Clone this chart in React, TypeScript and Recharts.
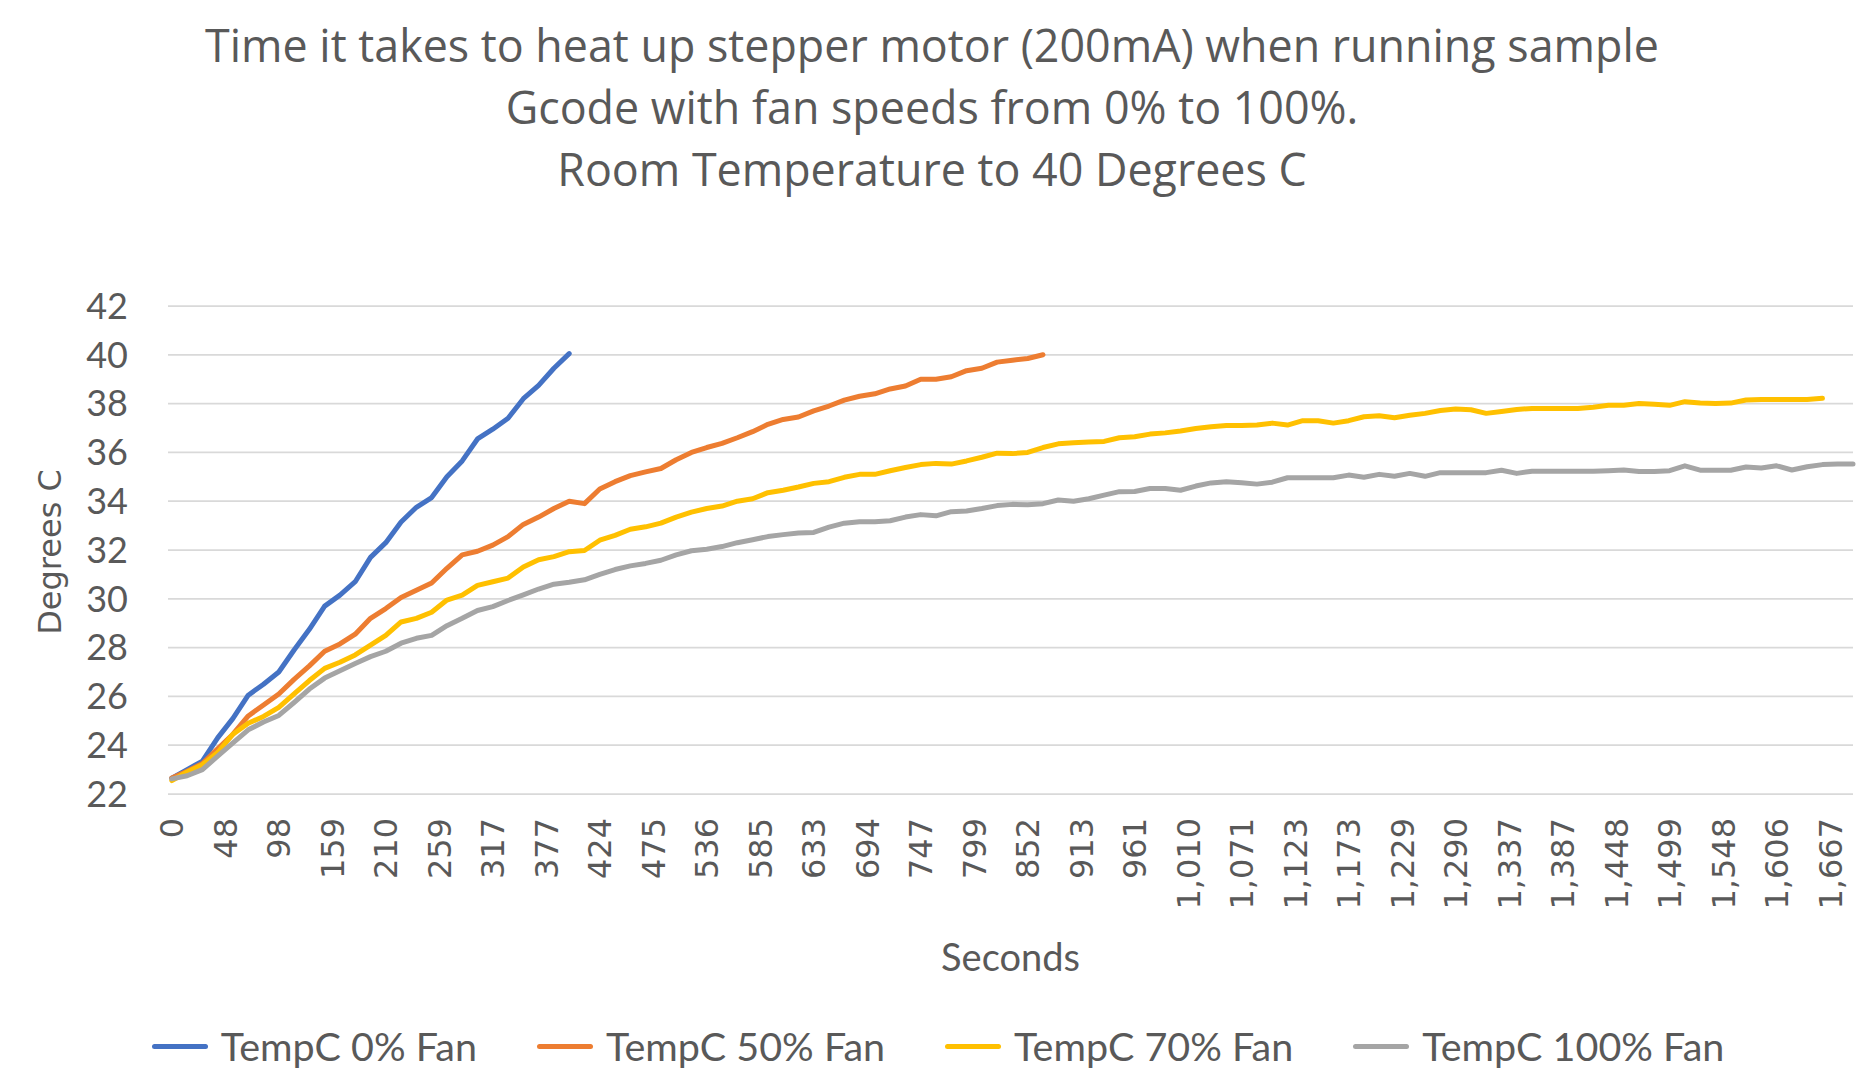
import React from "react";
import { LineChart, Line, XAxis, YAxis, CartesianGrid, Legend } from "recharts";

const TITLE_LINES = [
  "Time it takes to heat up stepper motor (200mA) when running sample",
  "Gcode with fan speeds from 0% to 100%.",
  "Room Temperature to 40 Degrees C",
];

// category labels shown on the axis: one every 7 samples
const TICK_LABELS = [
  "0", "48", "98", "159", "210", "259", "317", "377", "424", "475", "536",
  "585", "633", "694", "747", "799", "852", "913", "961", "1,010", "1,071",
  "1,123", "1,173", "1,229", "1,290", "1,337", "1,387", "1,448", "1,499",
  "1,548", "1,606", "1,667",
];
const LABEL_EVERY = 7;
const LAST_SAMPLE = 220;

const Y_TICKS = [22, 24, 26, 28, 30, 32, 34, 36, 38, 40, 42];

// temperatures at every 2nd sample
const READ_EVERY = 2;

const FAN_0 = [
  22.65, 23.0, 23.35, 24.3, 25.1, 26.05, 26.5, 27.0, 27.9, 28.75,
  29.7, 30.15, 30.7, 31.7, 32.3, 33.15, 33.75, 34.15, 35.0, 35.65,
  36.55, 36.95, 37.4, 38.2, 38.75, 39.45, 40.05,
];

const FAN_50 = [
  22.65, 22.93, 23.25, 23.85, 24.45, 25.2, 25.65, 26.1, 26.7, 27.25,
  27.85, 28.15, 28.55, 29.2, 29.6, 30.05, 30.35, 30.65, 31.25, 31.8,
  31.95, 32.2, 32.55, 33.05, 33.35, 33.7, 34.0, 33.9, 34.5, 34.8,
  35.05, 35.2, 35.34, 35.7, 36.0, 36.2, 36.37, 36.6, 36.85, 37.15,
  37.35, 37.45, 37.7, 37.9, 38.14, 38.3, 38.4, 38.6, 38.72, 39.0,
  39.0, 39.1, 39.35, 39.45, 39.7, 39.78, 39.85, 40.0,
];

const FAN_70 = [
  22.55, 22.9, 23.2, 23.7, 24.45, 24.9, 25.18, 25.55, 26.1, 26.65,
  27.15, 27.4, 27.7, 28.1, 28.5, 29.05, 29.2, 29.45, 29.95, 30.15,
  30.55, 30.7, 30.85, 31.3, 31.6, 31.73, 31.93, 31.98, 32.4, 32.6,
  32.85, 32.95, 33.1, 33.35, 33.55, 33.7, 33.8, 34.0, 34.1, 34.35,
  34.45, 34.58, 34.73, 34.8, 34.98, 35.1, 35.1, 35.25, 35.38, 35.5,
  35.55, 35.52, 35.65, 35.8, 35.97, 35.95, 36.0, 36.2, 36.35, 36.4,
  36.43, 36.45, 36.6, 36.64, 36.75, 36.8, 36.88, 36.98, 37.05, 37.1,
  37.1, 37.12, 37.2, 37.12, 37.3, 37.3, 37.2, 37.3, 37.46, 37.5,
  37.42, 37.52, 37.6, 37.72, 37.78, 37.75, 37.6, 37.68, 37.76, 37.8,
  37.8, 37.8, 37.8, 37.85, 37.93, 37.93, 38.0, 37.97, 37.93, 38.08,
  38.02, 38.0, 38.02, 38.15, 38.17, 38.17, 38.17, 38.17, 38.22,
];

const FAN_100 = [
  22.62, 22.75, 23.0, 23.55, 24.1, 24.63, 24.95, 25.22, 25.75, 26.3,
  26.75, 27.05, 27.35, 27.63, 27.85, 28.18, 28.38, 28.5, 28.9, 29.2,
  29.52, 29.68, 29.93, 30.16, 30.4, 30.6, 30.68, 30.78, 31.0, 31.2,
  31.35, 31.45, 31.58, 31.8, 31.97, 32.03, 32.14, 32.3, 32.42, 32.55,
  32.63, 32.7, 32.72, 32.94, 33.1, 33.16, 33.16, 33.2, 33.35, 33.45,
  33.4, 33.57, 33.6, 33.7, 33.82, 33.87, 33.85, 33.9, 34.05, 34.0,
  34.1, 34.25, 34.39, 34.4, 34.52, 34.52, 34.45, 34.62, 34.75, 34.8,
  34.76, 34.7, 34.78, 34.96, 34.96, 34.96, 34.96, 35.07, 34.98, 35.1,
  35.02, 35.14, 35.02, 35.17, 35.17, 35.17, 35.17, 35.27, 35.14, 35.23,
  35.23, 35.23, 35.23, 35.23, 35.25, 35.28, 35.22, 35.22, 35.25, 35.45,
  35.27, 35.27, 35.27, 35.4, 35.36, 35.45, 35.28, 35.41, 35.5, 35.52,
  35.52,
];

const SERIES = [
  { key: "fan0", name: "TempC 0% Fan", color: "#4472C4", values: FAN_0 },
  { key: "fan50", name: "TempC 50% Fan", color: "#ED7D31", values: FAN_50 },
  { key: "fan70", name: "TempC 70% Fan", color: "#FFC000", values: FAN_70 },
  { key: "fan100", name: "TempC 100% Fan", color: "#A5A5A5", values: FAN_100 },
];

const INK = "#595959";
const W = 1864;
const H = 1080;

const rowCount = Math.max(...SERIES.map((s) => s.values.length));
const rows = Array.from({ length: rowCount }, (_, i) => {
  const row: Record<string, number> = { sample: i * READ_EVERY };
  SERIES.forEach((s) => {
    if (i < s.values.length) row[s.key] = s.values[i];
  });
  return row;
});

const xTicks = TICK_LABELS.map((_, i) => i * LABEL_EVERY);

function SecondsTick({ x, y, payload }: any) {
  return (
    <text
      x={x}
      y={y}
      dy="0.36em"
      transform={`rotate(-90 ${x} ${y})`}
      textAnchor="end"
      fill={INK}
      fontSize={32}
      fontFamily="DejaVu Sans"
    >
      {TICK_LABELS[Math.round(payload.value / LABEL_EVERY)]}
    </text>
  );
}

// legend keeps series order (recharts would sort it by name)
function SeriesLegend() {
  return (
    <div style={{ display: "flex", justifyContent: "center", alignItems: "center", gap: 60, paddingLeft: 12 }}>
      {SERIES.map((s) => (
        <div key={s.key} style={{ display: "flex", alignItems: "center" }}>
          <span style={{ width: 56, height: 5, borderRadius: 3, background: s.color }} />
          <span style={{ marginLeft: 13, fontFamily: "Lato", fontSize: 39.5, color: INK, lineHeight: "48px" }}>
            {s.name}
          </span>
        </div>
      ))}
    </div>
  );
}

export default function App() {
  return (
    <div style={{ position: "relative", width: W, height: H, background: "#fff" }}>
      <style>{"body{margin:0}"}</style>
      <div
        style={{
          position: "absolute",
          top: 14,
          left: 0,
          width: W,
          textAlign: "center",
          fontFamily: "Open Sans",
          fontSize: 44.8,
          lineHeight: "62px",
          color: INK,
          zIndex: 1,
        }}
      >
        {TITLE_LINES.map((t) => (
          <div key={t}>{t}</div>
        ))}
      </div>
      <LineChart width={W} height={H} data={rows} margin={{ top: 306, right: 11, bottom: 86, left: 0 }}>
        <CartesianGrid vertical={false} stroke="#D9D9D9" strokeWidth={1.75} />
        <XAxis
          dataKey="sample"
          type="number"
          domain={[-0.5, LAST_SAMPLE]}
          ticks={xTicks}
          interval={0}
          height={200}
          axisLine={false}
          tickLine={false}
          tickSize={0}
          tickMargin={24}
          tick={<SecondsTick />}
          label={({ viewBox }: any) => (
            <text
              x={viewBox.x + viewBox.width / 2}
              y={viewBox.y + 177}
              textAnchor="middle"
              fill={INK}
              fontSize={38}
              fontFamily="Lato"
            >
              Seconds
            </text>
          )}
        />
        <YAxis
          type="number"
          domain={[22, 42]}
          ticks={Y_TICKS}
          width={168}
          axisLine={false}
          tickLine={false}
          tickSize={0}
          tickMargin={40}
          tick={{ fill: INK, fontSize: 36, fontFamily: "Lato" }}
          label={({ viewBox }: any) => {
            const cx = viewBox.x + 61;
            const cy = viewBox.y + viewBox.height / 2 + 2;
            return (
              <text
                x={cx}
                y={cy}
                transform={`rotate(-90 ${cx} ${cy})`}
                textAnchor="middle"
                fill={INK}
                fontSize={32}
                fontFamily="DejaVu Sans"
              >
                Degrees C
              </text>
            );
          }}
        />
        <Legend
          layout="horizontal"
          verticalAlign="middle"
          align="center"
          wrapperStyle={{ top: 1022, left: 0, width: W }}
          content={<SeriesLegend />}
        />
        {SERIES.map((s) => (
          <Line
            key={s.key}
            dataKey={s.key}
            name={s.name}
            type="linear"
            stroke={s.color}
            strokeWidth={5}
            strokeLinejoin="round"
            strokeLinecap="round"
            dot={false}
            activeDot={false}
            isAnimationActive={false}
          />
        ))}
      </LineChart>
    </div>
  );
}
